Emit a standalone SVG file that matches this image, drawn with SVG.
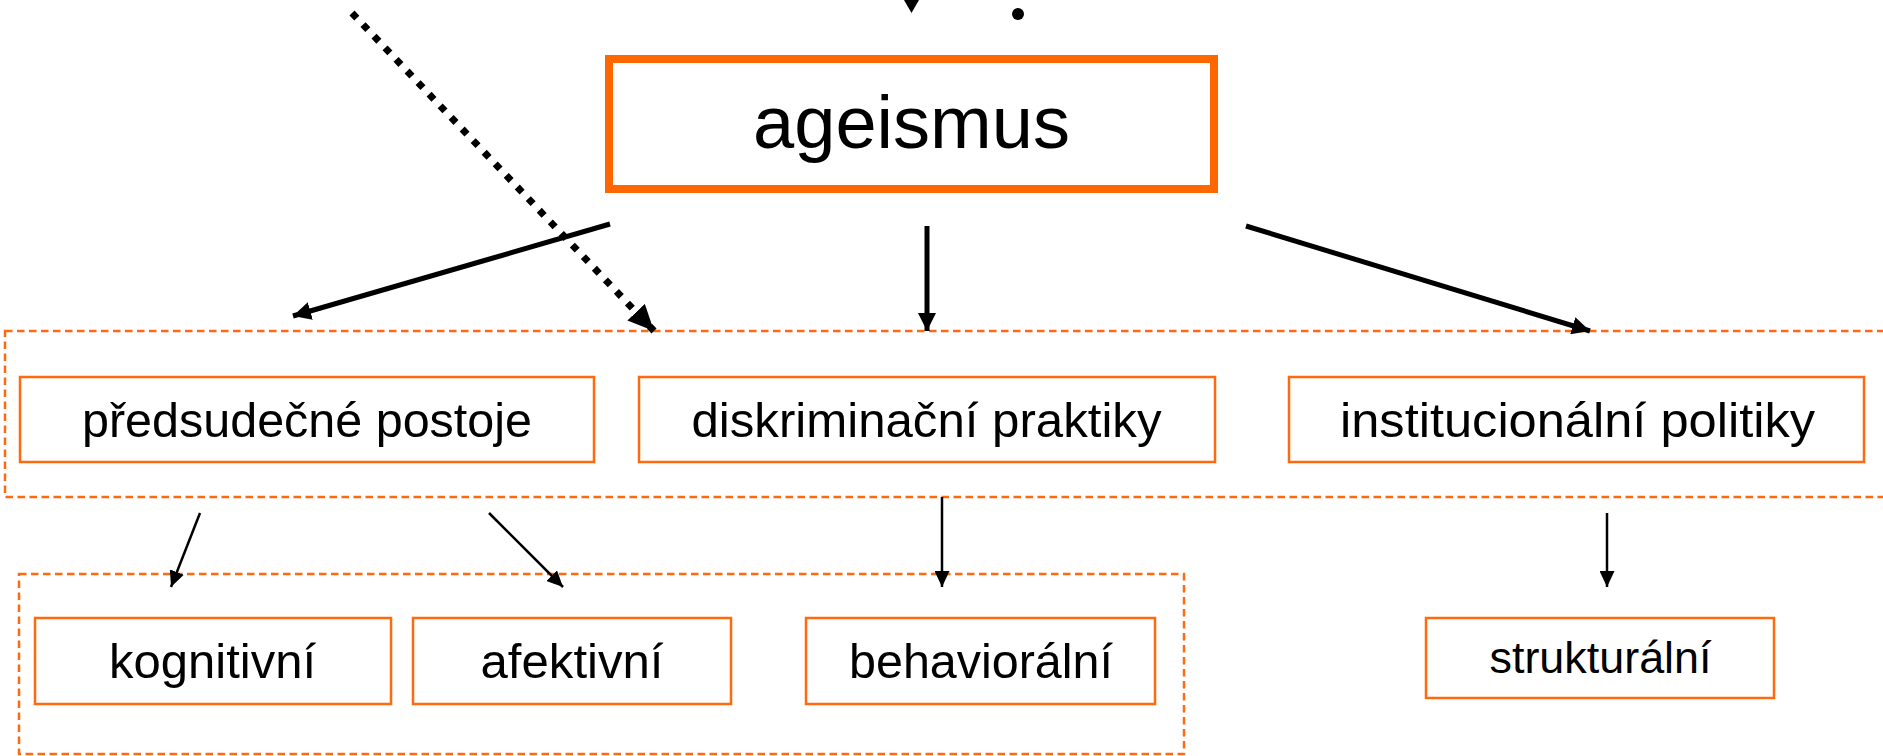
<svg xmlns="http://www.w3.org/2000/svg" width="1883" height="756" viewBox="0 0 1883 756">
<style>
  .box{fill:#fff;stroke:#FF6A0E;stroke-width:2.5}
  .main{fill:#fff;stroke:#FF6600;stroke-width:8}
  .grp{fill:none;stroke:#FF6A0E;stroke-width:2.5;stroke-dasharray:7.5 4.5}
  .t{font-family:"Liberation Sans",Arial,sans-serif;fill:#000;text-anchor:middle}
  .thick{stroke:#000;stroke-width:5;fill:none}
  .thin{stroke:#000;stroke-width:2.5;fill:none}
  .dots{stroke:#000;stroke-width:7;fill:none;stroke-dasharray:7 9}
</style>
<defs>
  <marker id="ah" markerUnits="userSpaceOnUse" viewBox="0 0 18 18" refX="18" refY="9" markerWidth="18" markerHeight="18" orient="auto"><path d="M0,0 L18,9 L0,18 z" fill="#000"/></marker>
  <marker id="ahd" markerUnits="userSpaceOnUse" viewBox="0 0 26 24" refX="26" refY="12" markerWidth="26" markerHeight="24" orient="auto"><path d="M0,0 L26,12 L0,24 z" fill="#000"/></marker>
  <marker id="aht" markerUnits="userSpaceOnUse" viewBox="0 0 16 15" refX="16" refY="7.5" markerWidth="16" markerHeight="15" orient="auto"><path d="M0,0 L16,7.5 L0,15 z" fill="#000"/></marker>
</defs>
<rect width="1883" height="756" fill="#fff"/>
<g id="group-row1"><rect class="grp" x="5" y="331" width="1895" height="166"/></g>
<g id="group-row2"><rect class="grp" x="19" y="574" width="1165" height="180"/></g>
<g id="node-ageismus">
  <rect class="main" x="609" y="59" width="605" height="130"/>
  <text class="t" x="911.5" y="148" font-size="75" textLength="317" lengthAdjust="spacingAndGlyphs">ageismus</text>
</g>
<g id="node-predsudecne">
  <rect class="box" x="20" y="377" width="574" height="85"/>
  <text class="t" x="307" y="437" font-size="48" textLength="450" lengthAdjust="spacingAndGlyphs">předsudečné postoje</text>
</g>
<g id="node-diskriminacni">
  <rect class="box" x="639" y="377" width="576" height="85"/>
  <text class="t" x="926.5" y="437" font-size="48" textLength="470" lengthAdjust="spacingAndGlyphs">diskriminační praktiky</text>
</g>
<g id="node-institucionalni">
  <rect class="box" x="1289" y="377" width="575" height="85"/>
  <text class="t" x="1577.5" y="437" font-size="48" textLength="475" lengthAdjust="spacingAndGlyphs">institucionální politiky</text>
</g>
<g id="node-kognitivni">
  <rect class="box" x="35" y="618" width="356" height="86"/>
  <text class="t" x="212.5" y="678" font-size="48" textLength="207" lengthAdjust="spacingAndGlyphs">kognitivní</text>
</g>
<g id="node-afektivni">
  <rect class="box" x="413" y="618" width="318" height="86"/>
  <text class="t" x="572" y="678" font-size="48" textLength="183" lengthAdjust="spacingAndGlyphs">afektivní</text>
</g>
<g id="node-behavioralni">
  <rect class="box" x="806" y="618" width="349" height="86"/>
  <text class="t" x="981" y="678" font-size="48" textLength="264" lengthAdjust="spacingAndGlyphs">behaviorální</text>
</g>
<g id="node-strukturalni">
  <rect class="box" x="1426" y="618" width="348" height="80"/>
  <text class="t" x="1600.5" y="673" font-size="44" textLength="222" lengthAdjust="spacingAndGlyphs">strukturální</text>
</g>
<g id="connectors">
  <polygon points="904,0 919,0 911.5,13" fill="#000"/>
  <circle cx="1018" cy="14" r="6" fill="#000"/>
  <line class="dots" x1="352" y1="13" x2="654" y2="331" marker-end="url(#ahd)"/>
  <line class="thick" x1="610" y1="224" x2="293" y2="316" marker-end="url(#ah)"/>
  <line class="thick" x1="927" y1="226" x2="927" y2="331" marker-end="url(#ah)"/>
  <line class="thick" x1="1246" y1="226" x2="1590" y2="331" marker-end="url(#ah)"/>
  <line class="thin" x1="200" y1="513" x2="171" y2="587" marker-end="url(#aht)"/>
  <line class="thin" x1="489" y1="513" x2="563" y2="587" marker-end="url(#aht)"/>
  <line class="thin" x1="942" y1="497" x2="942" y2="587" marker-end="url(#aht)"/>
  <line class="thin" x1="1607" y1="513" x2="1607" y2="587" marker-end="url(#aht)"/>
</g>
</svg>
